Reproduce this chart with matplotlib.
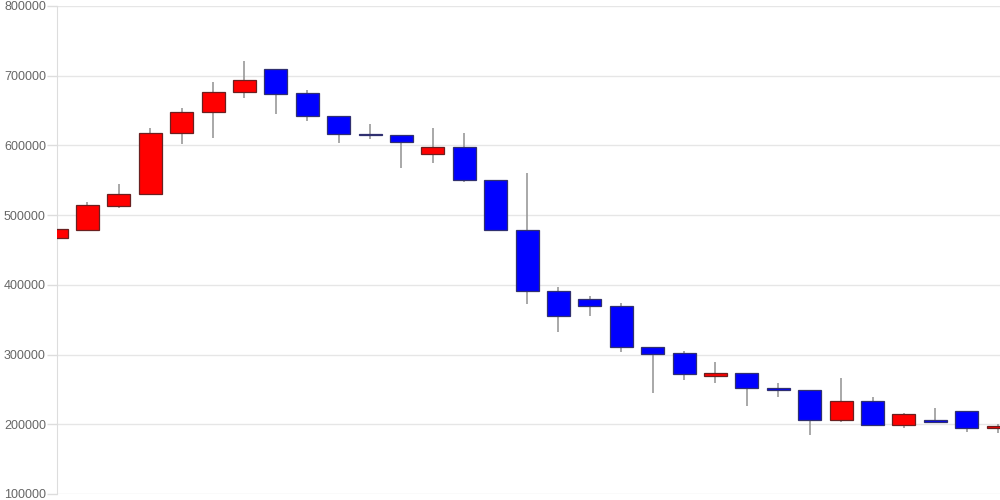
import matplotlib.pyplot as plt
import numpy as np

plt.rcParams['font.family'] = ['Liberation Sans', 'DejaVu Sans']

# giá trị (mỗi nến: mở, cao, thấp, đóng)
opens = [467000, 479000, 513500, 530000, 618300, 647900, 676600, 710100, 674800, 642700,
         616000, 614900, 587300, 597300, 550000, 478200, 390700, 379200, 369700, 310400,
         301800, 268800, 274000, 251600, 248700, 206600, 233900, 199400, 205700, 218600, 194200]
highs = [482000, 518800, 544700, 625000, 653700, 691000, 721100, 710100, 679500, 642700,
         630700, 614900, 625500, 618300, 550000, 560000, 397300, 384000, 374400, 310400,
         305500, 289300, 274000, 259200, 248700, 266300, 239100, 216700, 223800, 218600, 200400]
lows = [466000, 477700, 510200, 529900, 602000, 610200, 668500, 645100, 635500, 604000,
        609700, 568000, 575200, 548000, 478200, 372000, 331900, 354900, 303200, 244400,
        263100, 259600, 226200, 239100, 185000, 202800, 197500, 195100, 202800, 189300, 187900]
closes = [480100, 514100, 529900, 618300, 647900, 676600, 693400, 674200, 641800, 616200,
          615000, 604500, 597300, 550000, 478200, 390700, 354900, 369300, 310400, 301200,
          272500, 274000, 251600, 248700, 206600, 233900, 199400, 214300, 202800, 194200, 197500]

x = np.arange(len(opens))
o = np.array(opens)
c = np.array(closes)
up = c >= o

fig = plt.figure(figsize=(10, 5), dpi=100)
ax = fig.add_axes([0.057, 0.012, 0.943, 0.976])

# bấc nến
ax.vlines(x, lows, highs, color='#999999', linewidth=1.2, zorder=2)

# thân nến
ax.bar(x[up], (c - o)[up], bottom=o[up], width=0.73,
       color='#ff0000', edgecolor='#6a2020', linewidth=0.9, zorder=3)
ax.bar(x[~up], (o - c)[~up], bottom=c[~up], width=0.73,
       color='#0000ff', edgecolor='#303070', linewidth=0.9, zorder=3)

ax.set_xlim(0.03, 30.06)
ax.set_ylim(100000, 800000)
ax.set_yticks(range(100000, 800001, 100000))
ax.set_xticks([])
ax.grid(axis='y', color='#e6e6e6', linewidth=1, zorder=0)
ax.set_axisbelow(True)

for s in ['top', 'right', 'bottom']:
    ax.spines[s].set_visible(False)
ax.spines['left'].set_color('#dddddd')
ax.tick_params(axis='y', colors='#dddddd', labelcolor='#666666', labelsize=9,
               length=7, width=1, pad=1)

fig.savefig('out.png', dpi=100)
